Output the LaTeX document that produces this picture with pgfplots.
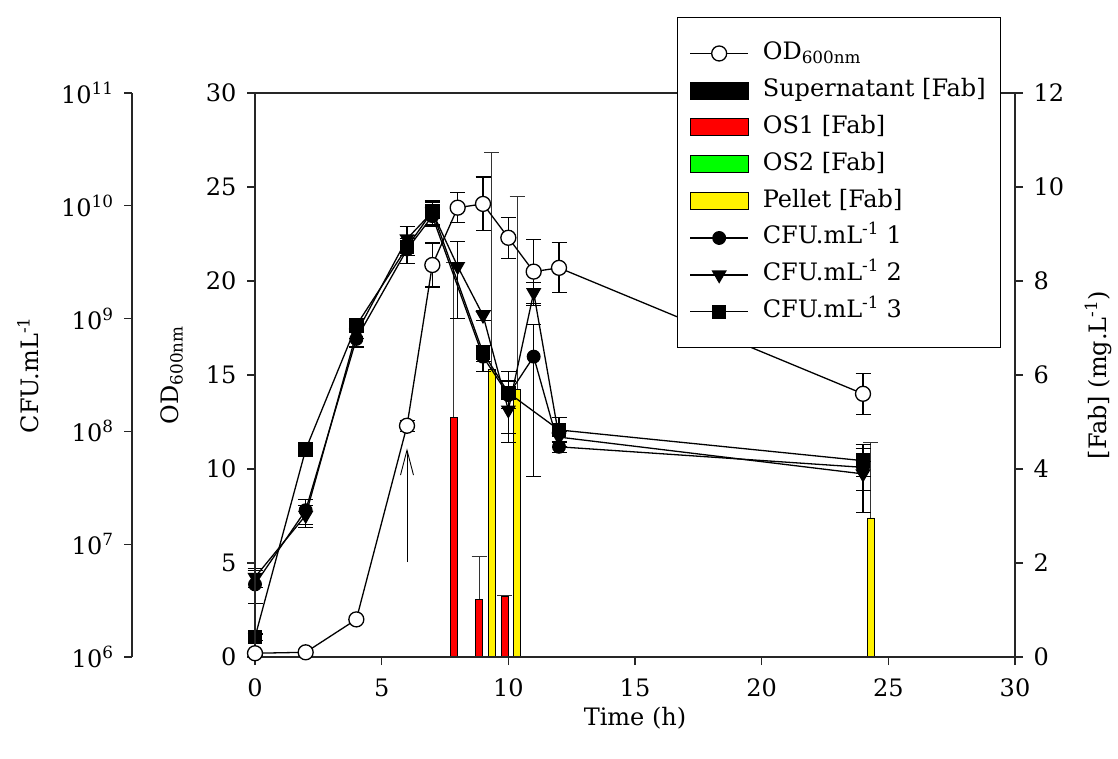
\documentclass[border=0pt]{standalone}
\usepackage{fontspec}
\setmainfont{DejaVu Serif}
\usepackage{pgfplots}
\pgfplotsset{compat=1.18}
\usepackage{pgfplotstable}
\usetikzlibrary{arrows.meta}

\newcommand{\fs}{\fontsize{24}{28}\selectfont}

% OD600nm
\pgfplotstableread{
x y e
0 0.2 0.1
2 0.25 0.1
4 2.0 0.15
6 12.3 0.3
7 20.85 1.17
8 23.9 0.8
9 24.1 1.43
10 22.3 1.1
11 20.5 1.7
12 20.7 1.33
24 14.0 1.1
}\odtab

% CFU.mL-1 replicate 1
\pgfplotstableread{
x y e
0 4.4e6 1.4e6
2 2.0e7 0.5e7
4 6.6e8 1.0e8
6 4.1e9 1.0e9
7 8.1e9 1.5e9
9 4.6e8 1.2e8
10 2.1e8 1.3e8
11 4.6e8 4.2e8
12 7.3e7 0.8e7
24 4.8e7 2.9e7
}\cfuone

% CFU.mL-1 replicate 2
\pgfplotstableread{
x y e
0 5.1e6 1.0e6
2 1.8e7 0.4e7
4 7.4e8 0.8e8
6 5.1e9 1.5e9
7 8.8e9 2.0e9
8 2.9e9 1.9e9
9 1.07e9 0.1e9
10 1.55e8 0.6e8
11 1.7e9 0.4e9
12 8.9e7 1.0e7
24 4.2e7 1.2e7
}\cfutwo

% CFU.mL-1 replicate 3
\pgfplotstableread{
x y e
0 1.5e6 0.1e6
2 6.9e7 0.5e7
4 8.7e8 0.8e8
6 4.3e9 1.2e9
7 8.9e9 2.2e9
9 5.0e8 0.8e8
10 2.2e8 0.6e8
12 1.03e8 0.3e8
24 5.5e7 1.5e7
}\cfuthree

% OS1 [Fab]
\pgfplotstableread{
x y e
7.85 5.1 3.3
8.85 1.23 0.9
9.85 1.3 0
}\osone

% Pellet [Fab]
\pgfplotstableread{
x y e
9.35 6.13 4.6
10.35 5.7 4.1
24.3 2.96 1.6
}\pellet

\pgfplotsset{
  common/.style={scale only axis, width=760pt, height=564pt, at={(255pt,101pt)},
    anchor=south west, xmin=0, xmax=30, clip=false, tick align=outside,
    major tick length=8pt, every tick label/.append style={font=\fs},
    /pgf/number format/assume math mode=true,
    axis line style={-, line width=1.2pt, black!85},
    every tick/.append style={line width=1.2pt, black!85}},
  errs/.style={error bars/.cd, y dir=both, y explicit,
    error bar style={line width=1.1pt, black},
    error mark options={rotate=90, black, line width=1.1pt, mark size=7.5pt}},
  barerr/.style={error bars/.cd, y dir=plus, y explicit,
    error bar style={line width=1pt, black!80},
    error mark options={rotate=90, black!80, line width=1pt, mark size=7.5pt}},
  barleg/.style={legend image code/.code={\draw[##1] (0pt,-8.5pt) rectangle (58pt,8.5pt);}},
  lineleg/.style={legend image code/.code={\draw[mark repeat=2,mark phase=2,##1] plot coordinates {(0pt,0pt) (29pt,0pt) (58pt,0pt)};}},
}

\begin{document}
\begin{tikzpicture}
\useasboundingbox (0,0) rectangle (1118pt,758pt);

% CFU log scale (display axis)
\begin{axis}[scale only axis, at={(132pt,101pt)}, anchor=south west,
  width=1pt, height=564pt, xmin=0, xmax=1, ymode=log, ymin=1e6, ymax=1e11,
  axis x line=none, axis y line=left,
  axis line style={-, line width=1.2pt, black!85},
  every tick/.append style={line width=1.2pt, black!85},
  ytick={1e6,1e7,1e8,1e9,1e10,1e11},
  yticklabels={10\textsuperscript{6},10\textsuperscript{7},10\textsuperscript{8},10\textsuperscript{9},10\textsuperscript{10},10\textsuperscript{11}},
  yminorticks=false, tick align=outside, major tick length=8pt,
  every tick label/.append style={font=\fs},
  yticklabel style={xshift=-7pt}]
\end{axis}

% [Fab] axis with bars
\begin{axis}[common, ymin=0, ymax=12, axis x line=none, axis y line*=right,
  ytick={0,2,...,12}, yticklabel style={xshift=7pt}]
\addplot[ybar, bar width=0.27, bar shift=0pt, fill=red, draw=black, line width=0.6pt, barerr]
  table[x=x, y=y, y error=e] {\osone};
\addplot[ybar, bar width=0.27, bar shift=0pt, fill=yellow, draw=black, line width=0.6pt, barerr]
  table[x=x, y=y, y error=e] {\pellet};
\end{axis}

% CFU series
\begin{axis}[common, ymode=log, ymin=1e6, ymax=1e11, hide axis]
\addplot[black, line width=1.3pt, mark=*, mark size=6.3pt, mark options={fill=black}, errs]
  table[x=x, y=y, y error=e] {\cfuone};
\addplot[black, line width=1.3pt, mark=triangle*, mark size=7.5pt, mark options={fill=black, rotate=180}, errs]
  table[x=x, y=y, y error=e] {\cfutwo};
\addplot[black, line width=1.3pt, mark=square*, mark size=6.6pt, mark options={fill=black}, errs]
  table[x=x, y=y, y error=e] {\cfuthree};
\end{axis}

% OD axis
\begin{axis}[common, ymin=0, ymax=30, xtick={0,5,...,30}, ytick={0,5,...,30},
  xtick pos=left, ytick pos=left,
  yticklabel style={xshift=-7pt}, xticklabel style={yshift=-10pt},
  legend cell align=left,
  legend style={at={(axis description cs:0.5553,1.1348)}, anchor=north west,
    draw=black, line width=1pt, fill=white, font=\fs,
    inner xsep=12pt, inner ysep=21pt, row sep=6.9pt, column sep=11pt,
    nodes={inner sep=3pt, text height=18pt, text depth=6pt}}]
\addplot[black, line width=1.3pt, mark=*, mark size=7.5pt, mark options={fill=white}, lineleg, errs]
  table[x=x, y=y, y error=e] {\odtab};
\addlegendentry{OD\textsubscript{600nm}}
\addlegendimage{barleg, fill=black, draw=black, line width=0.6pt}
\addlegendentry{Supernatant [Fab]}
\addlegendimage{barleg, fill=red, draw=black, line width=0.6pt}
\addlegendentry{OS1 [Fab]}
\addlegendimage{barleg, fill=green, draw=black, line width=0.6pt}
\addlegendentry{OS2 [Fab]}
\addlegendimage{barleg, fill=yellow, draw=black, line width=0.6pt}
\addlegendentry{Pellet [Fab]}
\addlegendimage{lineleg, black, line width=1.3pt, mark=*, mark size=6.3pt, mark options={fill=black}}
\addlegendentry{CFU.mL\textsuperscript{-1} 1}
\addlegendimage{lineleg, black, line width=1.3pt, mark=triangle*, mark size=7.5pt, mark options={fill=black, rotate=180}}
\addlegendentry{CFU.mL\textsuperscript{-1} 2}
\addlegendimage{lineleg, black, line width=1.3pt, mark=square*, mark size=6.6pt, mark options={fill=black}}
\addlegendentry{CFU.mL\textsuperscript{-1} 3}
\draw[-{Straight Barb[length=25pt,width=13pt]}, line width=0.9pt, black] (axis cs:6,5.05) -- (axis cs:6,11.1);
\end{axis}

\node[rotate=90, font=\fs] at (28pt,383pt) {CFU.mL\textsuperscript{-1}};
\node[rotate=90, font=\fs] at (172pt,383pt) {OD\textsubscript{600nm}};
\node[rotate=90, font=\fs] at (1098pt,383pt) {[Fab] (mg.L\textsuperscript{-1})};
\node[font=\fs] at (635pt,40pt) {Time (h)};
\end{tikzpicture}
\end{document}
